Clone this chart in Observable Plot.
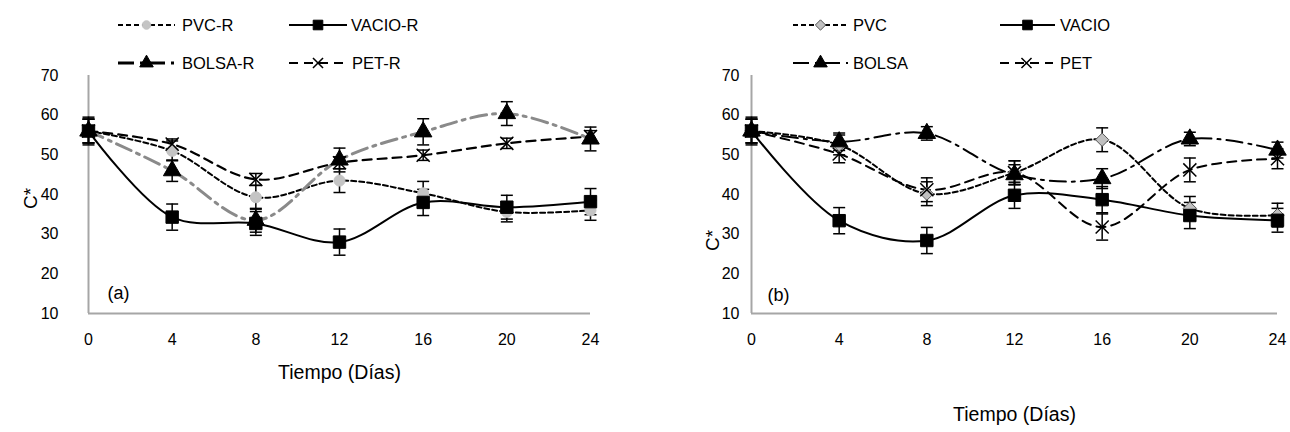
<!DOCTYPE html>
<html>
<head>
<meta charset="utf-8">
<script src="https://cdn.jsdelivr.net/npm/d3@7"></script>
<script src="https://cdn.jsdelivr.net/npm/@observablehq/plot@0.6"></script>
<style>
  body { margin: 0; background: #fff; font-family: "Liberation Sans", Arial, sans-serif; }
  #wrap { position: relative; width: 1290px; height: 432px; overflow: hidden; background: #fff; }
  .panel { position: absolute; top: 70px; }
  .lg { position: absolute; display: flex; align-items: center; height: 20px; font-size: 16.5px; color: #000; white-space: nowrap; }
  .lg svg { display: block; }
</style>
</head>
<body>
<div id="wrap"></div>
<script>
// ---------- data ----------
const days = [0, 4, 8, 12, 16, 20, 24];
const xTicks = [0, 4, 8, 12, 16, 20, 24];
const yTicks = [10, 20, 30, 40, 50, 60, 70];

// panel (a)
const namesA = ["PVC-R", "VACIO-R", "BOLSA-R", "PET-R"];
const pvcR    = [56, 51.0, 39.3, 43.5, 40.3, 35.6, 36.0];
const vacioR  = [56, 34.3, 32.7, 28.0, 38.0, 36.8, 38.2];
const bolsaR  = [56, 46.0, 33.5, 48.7, 55.8, 60.4, 54.0];
const petR    = [56, 52.7, 43.8, 48.0, 49.9, 52.9, 54.6];
const pvcRErr   = [3.0, 2.5, 3.0, 3.0, 3.0, 2.5, 2.5];
const vacioRErr = [3.5, 3.3, 3.0, 3.3, 3.3, 3.0, 3.3];
const bolsaRErr = [3.0, 2.7, 3.0, 3.0, 3.3, 3.0, 3.0];
const petRErr   = [3.0, 1.3, 1.5, 1.5, 1.3, 1.3, 1.5];

// panel (b)
const namesB = ["PVC", "VACIO", "BOLSA", "PET"];
const pvc    = [56, 52.5, 40.2, 45.5, 53.8, 36.5, 34.8];
const vacio  = [56, 33.4, 28.4, 39.8, 38.7, 34.7, 33.5];
const bolsa  = [56, 53.3, 55.4, 45.0, 44.0, 54.0, 51.2];
const pet    = [56, 50.2, 41.2, 45.5, 31.8, 46.2, 49.0];
const pvcErr   = [3.0, 2.5, 3.0, 3.0, 3.0, 3.0, 3.0];
const vacioErr = [3.5, 3.3, 3.3, 3.3, 3.3, 3.3, 3.0];
const bolsaErr = [3.0, 2.2, 1.7, 2.5, 2.5, 1.7, 2.0];
const petErr   = [3.0, 2.2, 3.0, 3.0, 3.3, 3.0, 2.5];

const xTitle = "Tiempo (Días)";
const yTitle = "C*";

// ---------- styles ----------
const stylesA = [
  {dash: "5,3",        width: 2,   color: "#000",    symbol: "circle",   r: 5.5, fill: "#c4c4c4", mstroke: "#c4c4c4"},
  {dash: null,         width: 2,   color: "#000",    symbol: "square",   r: 7,   fill: "#000",    mstroke: "#000"},
  {dash: "16,6,3,6",   width: 3,   color: "#8a8a8a", symbol: "triangle", r: 6.5, fill: "#000",    mstroke: "#000"},
  {dash: "9,6",        width: 2.2, color: "#000",    symbol: "times",    r: 6,   fill: "none",    mstroke: "#000"}
];
const stylesB = [
  {dash: "5,3",        width: 2,   color: "#000",    symbol: "diamond2", r: 6,   fill: "#c0c0c0", mstroke: "#555"},
  {dash: null,         width: 2,   color: "#000",    symbol: "square",   r: 7,   fill: "#000",    mstroke: "#000"},
  {dash: "16,6,3,6",   width: 2,   color: "#000",    symbol: "triangle", r: 6.5, fill: "#000",    mstroke: "#000"},
  {dash: "9,6",        width: 2,   color: "#000",    symbol: "times",    r: 6,   fill: "none",    mstroke: "#000"}
];

const capSymbol = {
  draw(ctx, size) { const r = Math.sqrt(size / Math.PI); ctx.moveTo(-r, 0); ctx.lineTo(r, 0); }
};

const wrap = document.getElementById("wrap");

function makePanel(cfg) {
  const marks = [
    Plot.axisX({ticks: xTicks, tickSize: 0, tickPadding: 20, fontSize: 16, label: null}),
    Plot.axisY({ticks: yTicks, tickSize: 0, tickPadding: cfg.yPad, fontSize: 16, label: null}),
    Plot.ruleY([10], {stroke: "#a6a6a6", strokeWidth: 2}),
    Plot.ruleX([0], {stroke: "#a6a6a6", strokeWidth: 2}),
    Plot.text([xTitle], {frameAnchor: "bottom", lineAnchor: "middle", dy: cfg.titleDy, fontSize: 19.5}),
    Plot.text([yTitle], {frameAnchor: "left", lineAnchor: "middle", textAnchor: "middle", rotate: -90, dx: cfg.yTitleDx, dy: cfg.yTitleDy, fontSize: 19}),
    Plot.text([cfg.tag], {frameAnchor: "bottom-left", lineAnchor: "middle", textAnchor: "middle", dx: cfg.tagDx, dy: cfg.tagDy, fontSize: 18})
  ];
  const allRows = cfg.names.map((name, k) =>
    cfg.values[k].map((v, i) => ({series: name, day: days[i], v, err: cfg.errs[k][i]})));
  // lines
  allRows.forEach((rows, k) => {
    const s = cfg.styles[k];
    marks.push(Plot.line(rows, {x: "day", y: "v", curve: "catmull-rom", stroke: s.color,
      strokeWidth: s.width, strokeDasharray: s.dash || undefined}));
  });
  // error bars
  allRows.forEach((rows) => {
    marks.push(Plot.ruleX(rows, {x: "day", y1: d => d.v - d.err, y2: d => d.v + d.err, stroke: "#000", strokeWidth: 1.5}));
    marks.push(Plot.dot(rows, {x: "day", y: d => d.v + d.err, symbol: capSymbol, r: 6, stroke: "#000", strokeWidth: 1.5, fill: "none"}));
    marks.push(Plot.dot(rows, {x: "day", y: d => d.v - d.err, symbol: capSymbol, r: 6, stroke: "#000", strokeWidth: 1.5, fill: "none"}));
  });
  // markers
  allRows.forEach((rows, k) => {
    const s = cfg.styles[k];
    marks.push(Plot.dot(rows, {x: "day", y: "v", symbol: s.symbol, r: s.r, fill: s.fill, stroke: s.mstroke,
      strokeWidth: s.symbol === "times" ? 1.5 : 1}));
  });

  const chart = Plot.plot({
    width: 645, height: 362,
    marginTop: 5, marginBottom: 119, marginLeft: cfg.ml, marginRight: cfg.mr,
    style: {fontFamily: "'Liberation Sans', Arial, sans-serif", fontSize: "16px", color: "#000", background: "transparent", overflow: "visible"},
    x: {domain: [0, 24]},
    y: {domain: [10, 70]},
    marks
  });
  const div = document.createElement("div");
  div.className = "panel";
  div.style.left = cfg.left + "px";
  div.appendChild(chart);
  wrap.appendChild(div);

  // legend
  const symMap = {circle: d3.symbolCircle, square: d3.symbolSquare, triangle: d3.symbolTriangle,
    times: d3.symbolTimes, diamond2: d3.symbolDiamond2};
  cfg.names.forEach((name, k) => {
    const s = cfg.styles[k];
    const pos = cfg.legendPos[k];
    const item = document.createElement("div");
    item.className = "lg";
    item.style.left = pos[0] + "px";
    item.style.top = (pos[1] - 10) + "px";
    const w = pos[2];
    const svg = d3.create("svg").attr("width", w).attr("height", 20);
    svg.append("line").attr("x1", 0).attr("x2", w).attr("y1", 10).attr("y2", 10)
      .attr("stroke", k === 2 && cfg.tag === "(a)" ? "#000" : s.color).attr("stroke-width", s.width)
      .attr("stroke-dasharray", s.dash || null);
    svg.append("path").attr("transform", `translate(${w / 2},10)`)
      .attr("d", d3.symbol(symMap[s.symbol], Math.PI * s.r * s.r * 0.6)())
      .attr("fill", s.fill).attr("stroke", s.mstroke).attr("stroke-width", s.symbol === "times" ? 1.5 : 1);
    item.appendChild(svg.node());
    const t = document.createElement("span");
    t.textContent = name;
    t.style.marginLeft = pos[3] + "px";
    item.appendChild(t);
    wrap.appendChild(item);
  });
}

makePanel({
  left: 0, ml: 88, mr: 55, tag: "(a)", tagDx: 30, tagDy: -20, titleDy: 59, yPad: 30, yTitleDx: -58, yTitleDy: 4,
  names: namesA, values: [pvcR, vacioR, bolsaR, petR], errs: [pvcRErr, vacioRErr, bolsaRErr, petRErr],
  styles: stylesA,
  legendPos: [[118, 25, 57, 7], [289, 25, 58, 4], [118, 63, 57, 7], [289, 63, 58, 5]]
});
makePanel({
  left: 645, ml: 106, mr: 13, tag: "(b)", tagDx: 27, tagDy: -18, titleDy: 101, yPad: 12, yTitleDx: -39, yTitleDy: 46,
  names: namesB, values: [pvc, vacio, bolsa, pet], errs: [pvcErr, vacioErr, bolsaErr, petErr],
  styles: stylesB,
  legendPos: [[793, 25, 55, 5], [1000, 25, 55, 5], [793, 63, 55, 5], [1000, 63, 53, 7]]
});
</script>
</body>
</html>
